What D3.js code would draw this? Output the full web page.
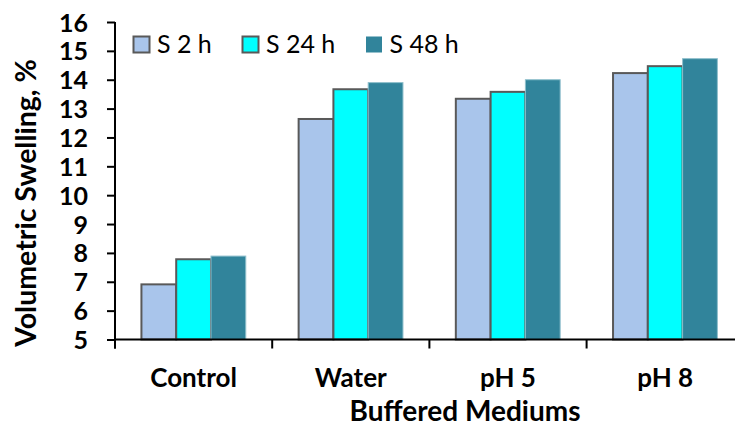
<!DOCTYPE html>
<html><head><meta charset="utf-8">
<script src="https://cdn.jsdelivr.net/npm/d3@7"></script>
<style>body{margin:0;background:#fff}svg{display:block}</style>
</head><body>
<svg id="c" width="735" height="427"></svg>
<script>
const categories = ["Control", "Water", "pH 5", "pH 8"];
const seriesNames = ["S 2 h", "S 24 h", "S 48 h"];
const s2h = [6.91, 12.64, 13.34, 14.23];
const s24h = [7.78, 13.67, 13.58, 14.47];
const s48h = [7.89, 13.90, 14.00, 14.73];
const yTicks = [5, 6, 7, 8, 9, 10, 11, 12, 13, 14, 15, 16];
const seriesValues = [s2h, s24h, s48h];

const fills = ["#A9C5EB", "#00FFFF", "#31849B"];
const strokes = ["#595959", "#595959", "#8fbfcc"];
const strokeW = [2, 2, 1];

const svg = d3.select("#c");
const mLeft = 115, mRight = 743.8, mTop = 22, mBottom = 339.5;
const font = "Lato, 'Open Sans', sans-serif";

const x0 = d3.scaleBand().domain(categories).range([mLeft, mRight]).padding(0);
const x1 = d3.scaleBand().domain(seriesNames).range([0, x0.bandwidth()]).paddingInner(0).paddingOuter(0.76);
const y = d3.scaleLinear().domain([5, 16]).range([mBottom, mTop]);

// bars
seriesNames.forEach((s, si) => {
  svg.append("g").selectAll("rect").data(categories).join("rect")
    .attr("x", d => x0(d) + x1(s))
    .attr("y", (d, i) => y(seriesValues[si][i]))
    .attr("width", x1.bandwidth())
    .attr("height", (d, i) => y(5) - y(seriesValues[si][i]))
    .attr("fill", fills[si])
    .attr("stroke", strokes[si])
    .attr("stroke-width", strokeW[si]);
});

// y axis
const yAxis = svg.append("g").attr("transform", `translate(${mLeft},0)`)
  .call(d3.axisLeft(y).tickValues(yTicks).tickSize(8).tickPadding(19).tickFormat(d3.format("d")));
yAxis.select(".domain").attr("d", `M0,${mTop}V${mBottom + 9}`).attr("stroke", "#000").attr("stroke-width", 2);
yAxis.selectAll(".tick line").attr("stroke", "#000").attr("stroke-width", 2);
yAxis.selectAll(".tick text").attr("font-family", font).attr("font-weight", "bold")
  .attr("font-size", 25).attr("fill", "#000").attr("dy", "0.36em");

// x axis
const xg = svg.append("g");
xg.append("line").attr("x1", mLeft).attr("x2", mRight).attr("y1", y(5)).attr("y2", y(5))
  .attr("stroke", "#000").attr("stroke-width", 2);
xg.selectAll("line.t").data(categories).join("line").attr("class", "t")
  .attr("x1", d => x0(d)).attr("x2", d => x0(d))
  .attr("y1", y(5)).attr("y2", y(5) + 9).attr("stroke", "#000").attr("stroke-width", 2);
xg.selectAll("text").data(categories).join("text")
  .attr("x", d => x0(d) + x0.bandwidth() / 2).attr("y", 387)
  .attr("text-anchor", "middle").attr("font-family", font).attr("font-weight", "bold")
  .attr("font-size", 26).text(d => d);

// axis titles
svg.append("text").attr("x", 465).attr("y", 421)
  .attr("text-anchor", "middle").attr("font-family", font).attr("font-weight", "bold")
  .attr("font-size", 28).text("Buffered Mediums");
svg.append("text").attr("transform", "translate(36,203) rotate(-90)")
  .attr("text-anchor", "middle").attr("font-family", font).attr("font-weight", "bold")
  .attr("font-size", 28.5).text("Volumetric Swelling, %");

// legend
const legX = [133.5, 242.5, 366];
const lg = svg.append("g");
seriesNames.forEach((s, i) => {
  lg.append("rect").attr("x", legX[i]).attr("y", 36.5).attr("width", 16).attr("height", 16)
    .attr("fill", fills[i]).attr("stroke", i < 2 ? "#595959" : "none").attr("stroke-width", 2);
  lg.append("text").attr("x", legX[i] + 23.5).attr("y", 53).attr("font-family", font)
    .attr("font-size", 25).text(s);
});
</script>
</body></html>
